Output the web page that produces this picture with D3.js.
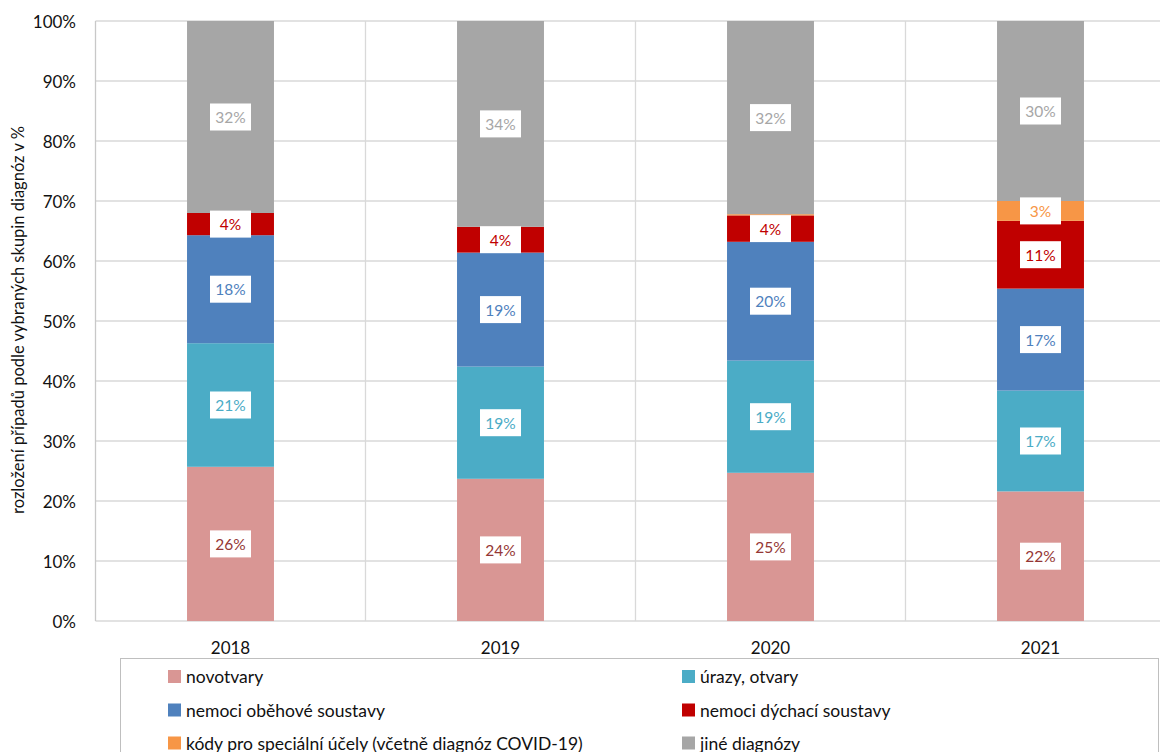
<!DOCTYPE html>
<html>
<head>
<meta charset="utf-8">
<script src="https://cdn.jsdelivr.net/npm/d3@7"></script>
<style>
  html, body { margin: 0; padding: 0; background: #fff; }
  svg { display: block; font-family: Lato, "Open Sans", sans-serif; }
</style>
</head>
<body>
<svg id="chart" width="1160" height="752"></svg>
<script>
// Rozložení případů podle vybraných skupin diagnóz (podíl v %)
const years = ["2018", "2019", "2020", "2021"];
const seriesNames = [
  "novotvary",
  "úrazy, otvary",
  "nemoci oběhové soustavy",
  "nemoci dýchací soustavy",
  "kódy pro speciální účely (včetně diagnóz COVID-19)",
  "jiné diagnózy"
];
const novotvary = [25.7, 23.7, 24.7, 21.6];
const urazy     = [20.6, 18.7, 18.7, 16.8];
const obehove   = [18.0, 19.0, 19.8, 17.0];
const dychaci   = [3.7, 4.3, 4.4, 11.3];
const specialni = [0.0, 0.0, 0.2, 3.3];
const jine      = [32.0, 34.3, 32.2, 30.0];
const yTicks = [0, 10, 20, 30, 40, 50, 60, 70, 80, 90, 100];

const seriesValues = [novotvary, urazy, obehove, dychaci, specialni, jine];
const fills = ["#d99694", "#4bacc6", "#4f81bd", "#c00000", "#f79646", "#a6a6a6"];
const labelColors = ["#953735", "#4bacc6", "#4f81bd", "#c00000", "#f79646", "#a6a6a6"];

const rows = years.map((yr, i) => {
  const r = { year: yr };
  seriesNames.forEach((s, k) => { r[s] = seriesValues[k][i]; });
  return r;
});

const svg = d3.select("#chart");
const plotLeft = 95.5, plotRight = 1175.5, plotTop = 21, plotBottom = 621;

const x = d3.scaleBand().domain(years).range([plotLeft, plotRight])
  .paddingInner(0.678).paddingOuter(0.339);
const y = d3.scaleLinear().domain([0, 100]).range([plotBottom, plotTop]);

// horizontal gridlines
svg.append("g").selectAll("line").data(yTicks).join("line")
  .attr("x1", plotLeft).attr("x2", plotRight)
  .attr("y1", d => y(d)).attr("y2", d => y(d))
  .attr("stroke", "#d9d9d9").attr("stroke-width", 1.3);

// vertical category separators
const step = x.step();
svg.append("g").selectAll("line").data(years.slice(1)).join("line")
  .attr("x1", (d, i) => plotLeft + (i + 1) * step).attr("x2", (d, i) => plotLeft + (i + 1) * step)
  .attr("y1", plotTop).attr("y2", plotBottom)
  .attr("stroke", "#d9d9d9").attr("stroke-width", 1.3);

// left axis line
svg.append("line").attr("x1", plotLeft).attr("x2", plotLeft).attr("y1", plotTop).attr("y2", plotBottom)
  .attr("stroke", "#c8c8c8").attr("stroke-width", 1.3);

// stacked bars
const stack = d3.stack().keys(seriesNames);
const layers = stack(rows);

const gBars = svg.append("g");
layers.forEach((layer, k) => {
  gBars.append("g").attr("fill", fills[k]).selectAll("rect").data(layer).join("rect")
    .attr("x", d => x(d.data.year))
    .attr("width", x.bandwidth())
    .attr("y", d => y(d[1]))
    .attr("height", d => Math.max(0, y(d[0]) - y(d[1])));
});

// data labels in white boxes
const gLabels = svg.append("g");
layers.forEach((layer, k) => {
  layer.forEach(d => {
    const v = d[1] - d[0];
    if (v < 1) return;
    const cx = x(d.data.year) + x.bandwidth() / 2;
    const cy = (y(d[0]) + y(d[1])) / 2;
    const txt = Math.round(v) + "%";
    const w = 41, h = 27;
    gLabels.append("rect")
      .attr("x", cx - w / 2).attr("y", cy - h / 2)
      .attr("width", w).attr("height", h).attr("fill", "#fff");
    gLabels.append("text")
      .attr("x", cx).attr("y", cy)
      .attr("text-anchor", "middle").attr("dominant-baseline", "central")
      .attr("font-size", 15.5).attr("fill", labelColors[k])
      .text(txt);
  });
});

// y axis tick labels
svg.append("g").selectAll("text").data(yTicks).join("text")
  .attr("x", 76).attr("y", d => y(d))
  .attr("text-anchor", "end").attr("dominant-baseline", "central")
  .attr("font-size", 17).attr("fill", "#111")
  .text(d => d + "%");

// category labels
svg.append("g").selectAll("text").data(years).join("text")
  .attr("x", d => x(d) + x.bandwidth() / 2).attr("y", 647)
  .attr("text-anchor", "middle").attr("dominant-baseline", "central")
  .attr("font-size", 17).attr("fill", "#111")
  .text(d => d);

// y axis title
svg.append("text")
  .attr("transform", "translate(18,320) rotate(-90)")
  .attr("text-anchor", "middle").attr("dominant-baseline", "central")
  .attr("font-size", 16.5).attr("fill", "#111")
  .text("rozložení případů podle vybraných skupin diagnóz v %");

// legend
svg.append("rect")
  .attr("x", 120.5).attr("y", 658.5).attr("width", 1038).attr("height", 120)
  .attr("fill", "none").attr("stroke", "#bfbfbf").attr("stroke-width", 1);

const legCols = [168, 682];
const legRows = [676.5, 710, 743];
const gLeg = svg.append("g");
seriesNames.forEach((s, k) => {
  const cx = legCols[k % 2], cy = legRows[Math.floor(k / 2)];
  gLeg.append("rect").attr("x", cx).attr("y", cy - 6.5).attr("width", 13).attr("height", 13)
    .attr("fill", fills[k]);
  gLeg.append("text").attr("x", cx + 18).attr("y", cy)
    .attr("dominant-baseline", "central").attr("font-size", 17.5).attr("fill", "#111")
    .text(s);
});
</script>
</body>
</html>
